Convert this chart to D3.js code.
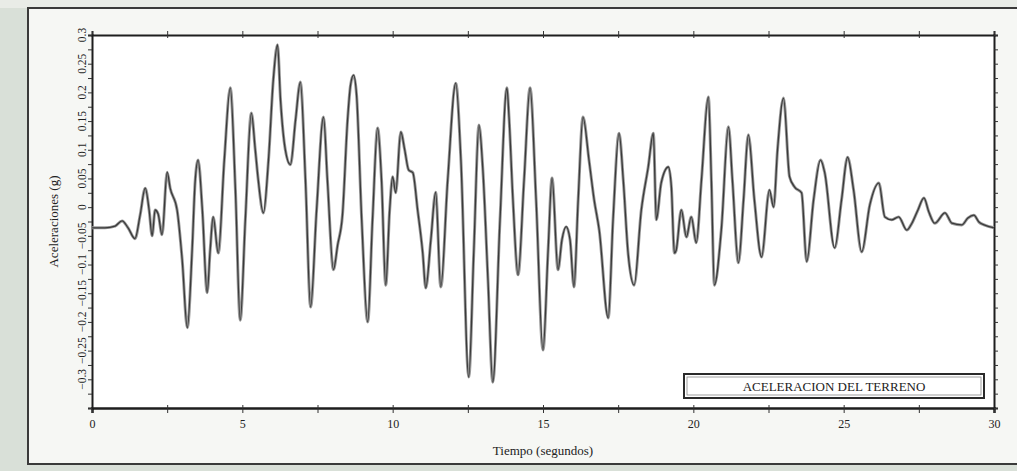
<!DOCTYPE html>
<html><head><meta charset="utf-8">
<script src="https://cdn.jsdelivr.net/npm/d3@7/dist/d3.min.js"></script>
<style>
body{margin:0;background:#d9e0d8;}
svg{display:block}
</style>
</head><body>
<svg id="c" width="1017" height="471"></svg>
<script>
// time (s)
const time = [0,0.43,0.77,1.0,1.2,1.43,1.6,1.77,1.9,2.0,2.1,2.2,2.33,2.5,2.6,2.83,3.0,3.17,3.33,3.43,3.53,3.67,3.83,3.93,4.03,4.2,4.4,4.6,4.77,4.93,
5.1,5.3,5.43,5.53,5.7,5.87,6.03,6.17,6.27,6.43,6.6,6.77,6.93,7.1,7.27,7.47,7.7,7.83,8.03,8.17,8.33,8.5,8.6,8.7,8.8,8.97,9.17,9.33,9.5,9.63,9.77,9.9,
10.0,10.1,10.27,10.4,10.53,10.67,10.83,11.0,11.1,11.27,11.43,11.6,11.83,12.1,12.27,12.53,12.7,12.87,13.0,13.17,13.33,13.57,13.8,13.87,14.0,14.17,14.37,14.57,14.77,
15.0,15.17,15.3,15.5,15.63,15.77,15.9,16.03,16.17,16.33,16.53,16.7,16.87,17.17,17.33,17.53,17.67,17.83,18.03,18.27,18.5,18.67,18.77,18.93,19.17,19.27,19.37,19.43,19.6,19.77,19.93,
20.1,20.27,20.5,20.6,20.7,20.93,21.17,21.3,21.5,21.67,21.83,22.03,22.27,22.53,22.67,22.8,23.0,23.2,23.37,23.6,23.77,24.0,24.23,24.37,24.7,24.93,
25.13,25.33,25.6,25.87,26.17,26.37,26.6,26.83,27.1,27.27,27.47,27.67,27.83,28.03,28.37,28.6,28.93,29.13,29.33,29.5,29.67,30.0];
// ground acceleration (g)
const accel = [-0.036,-0.036,-0.033,-0.024,-0.036,-0.055,-0.014,0.033,-0.005,-0.050,-0.005,-0.012,-0.048,0.061,0.033,-0.005,-0.092,-0.210,-0.075,0.044,0.082,-0.005,-0.149,-0.075,-0.017,-0.080,0.082,0.208,0.030,-0.197,
-0.022,0.164,0.100,0.047,-0.010,0.082,0.222,0.283,0.187,0.100,0.074,0.152,0.218,0.047,-0.174,-0.005,0.157,0.047,-0.109,-0.066,-0.014,0.152,0.213,0.230,0.195,-0.022,-0.200,-0.022,0.138,0.047,-0.136,-0.005,
0.053,0.025,0.131,0.100,0.065,0.060,-0.005,-0.080,-0.141,-0.057,0.026,-0.139,0.047,0.216,0.082,-0.296,-0.075,0.143,0.065,-0.127,-0.305,-0.022,0.208,0.157,0.013,-0.118,0.047,0.208,0.013,
-0.249,-0.075,0.051,-0.109,-0.057,-0.034,-0.057,-0.139,0.013,0.157,0.082,0.013,-0.040,-0.193,-0.022,0.129,0.047,-0.080,-0.136,-0.005,0.070,0.129,-0.022,0.042,0.070,0.035,-0.080,-0.075,-0.005,-0.052,-0.017,
-0.062,0.047,0.192,0.047,-0.136,-0.040,0.140,0.047,-0.097,0.013,0.126,0.013,-0.087,0.030,0.000,0.100,0.190,0.053,0.035,0.025,-0.095,0.013,0.082,0.060,-0.071,0.013,
0.087,0.030,-0.078,0.004,0.042,-0.017,-0.022,-0.017,-0.040,-0.028,-0.005,0.016,-0.008,-0.028,-0.010,-0.028,-0.031,-0.019,-0.014,-0.026,-0.031,-0.036];
const xTickLabels = [0,5,10,15,20,25,30];
const xMinorTicks = [2.5,7.5,12.5,17.5,22.5,27.5];
const yTickLabels = [-0.3,-0.25,-0.2,-0.15,-0.1,-0.05,0,0.05,0.1,0.15,0.2,0.25,0.3];
const xTitle = "Tiempo (segundos)";
const yTitle = "Aceleraciones (g)";
const legendLabel = "ACELERACION DEL TERRENO";

const svg = d3.select("#c");
const serif = "'Liberation Serif','DejaVu Serif',serif";
const L = 92, R = 994, T = 35, B = 408;

// outer panel
svg.append("rect").attr("x",0).attr("y",0).attr("width",1017).attr("height",8).attr("fill","#e9ece7");
svg.append("rect").attr("x",28).attr("y",8).attr("width",1000).attr("height",456)
  .attr("fill","#f6f7f4").attr("stroke","#3a3a3a").attr("stroke-width",2);
svg.append("rect").attr("x",L).attr("y",T).attr("width",R-L).attr("height",B-T).attr("fill","#ffffff");

const x = d3.scaleLinear().domain([0,30]).range([L,R]);
const y = d3.scaleLinear().domain([-0.35,0.3]).range([B,T]);

const yMinor = d3.range(-0.35,0.3001,0.025).map(v=>+v.toFixed(3));
const xAll = xTickLabels.concat(xMinorTicks);

// bottom axis
const gB = svg.append("g").attr("transform",`translate(0,${B})`)
  .call(d3.axisBottom(x).tickValues(xAll).tickSize(5).tickFormat(d => xTickLabels.includes(d) ? d : ""));
gB.select(".domain").attr("stroke","#1e1e1e").attr("stroke-width",2.5);
gB.selectAll(".tick line").attr("stroke","#333").attr("y1",-3);
gB.selectAll(".tick text").attr("font-family",serif).attr("font-size",12).attr("fill","#222").attr("dy","1.0em");

// top axis
const gT = svg.append("g").attr("transform",`translate(0,${T})`)
  .call(d3.axisTop(x).tickValues(xAll).tickSize(4).tickFormat(""));
gT.select(".domain").attr("stroke","#1e1e1e").attr("stroke-width",2);
gT.selectAll(".tick line").attr("stroke","#333").attr("y1",3);

// left axis
const gL = svg.append("g").attr("transform",`translate(${L},0)`)
  .call(d3.axisLeft(y).tickValues(yMinor).tickSize(4).tickFormat(""));
gL.select(".domain").attr("stroke","#1e1e1e").attr("stroke-width",2);
gL.selectAll(".tick line").attr("stroke","#333");

// right axis
const gR = svg.append("g").attr("transform",`translate(${R},0)`)
  .call(d3.axisRight(y).tickValues(yMinor).tickSize(4).tickFormat(""));
gR.select(".domain").attr("stroke","#1e1e1e").attr("stroke-width",2);
gR.selectAll(".tick line").attr("stroke","#333");

// rotated y tick labels
svg.append("g").selectAll("text").data(yTickLabels).join("text")
  .attr("transform",d=>`translate(${L-6},${y(d)}) rotate(-90)`)
  .attr("text-anchor","middle")
  .attr("font-family",serif).attr("font-size",11.5).attr("fill","#1e1e1e")
  .text(d=>d===0?"0":d3.format("")(d));

// titles
svg.append("text").attr("x",(L+R)/2).attr("y",455).attr("text-anchor","middle")
  .attr("font-family",serif).attr("font-size",13).attr("fill","#222").text(xTitle);
svg.append("text").attr("transform",`translate(58,${(T+B)/2}) rotate(-90)`).attr("text-anchor","middle")
  .attr("font-family",serif).attr("font-size",13).attr("fill","#222").text(yTitle);

// trace
const line = d3.line().x((d,i)=>x(time[i])).y(d=>y(d)).curve(d3.curveMonotoneX);
svg.append("path").datum(accel).attr("d",line).attr("fill","none")
  .attr("stroke","#9a9a9a").attr("stroke-width",3.0).attr("stroke-linejoin","round");
svg.append("path").datum(accel).attr("d",line).attr("fill","none")
  .attr("stroke","#3a3a3a").attr("stroke-width",1.3).attr("stroke-linejoin","round");

// legend box
const lg = svg.append("g");
lg.append("rect").attr("x",684).attr("y",374).attr("width",300).attr("height",24)
  .attr("fill","#fff").attr("stroke","#2a2a2a").attr("stroke-width",2);
lg.append("rect").attr("x",687).attr("y",377).attr("width",294).attr("height",18)
  .attr("fill","none").attr("stroke","#888").attr("stroke-width",0.8);
lg.append("text").attr("x",834).attr("y",391).attr("text-anchor","middle")
  .attr("font-family",serif).attr("font-size",13).attr("fill","#222").text(legendLabel);
</script>
</body></html>
